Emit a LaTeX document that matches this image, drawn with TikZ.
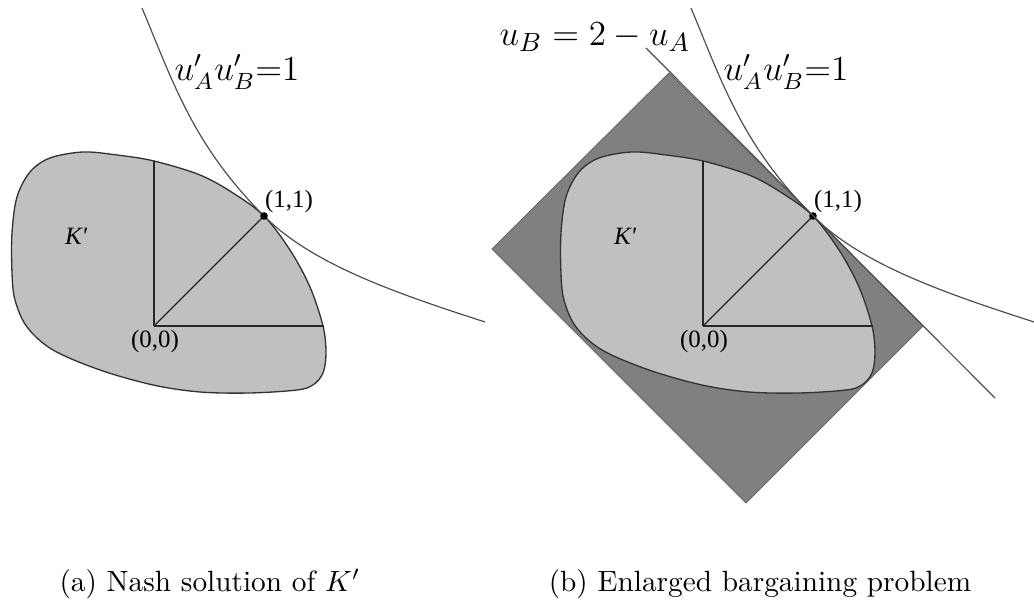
\documentclass[tikz,border=0pt]{standalone}
\usepackage{fontspec}
\newfontfamily\timesfont{Liberation Serif}
\usepackage{xcolor}
\usepackage{tikz}

\definecolor{blobgray}{RGB}{192,192,192}
\definecolor{rectgray}{RGB}{128,128,128}

\begin{document}
\begin{tikzpicture}[
    x=0.012cm, y=-0.012cm,
    every node/.style={align=center},
    region/.style={fill=blobgray, draw=black!80, line width=0.45pt},
    enlarged/.style={fill=rectgray, draw=black!60, line width=0.3pt},
    axis/.style={draw=black!85, line width=0.4pt},
    curve/.style={draw=black!70, line width=0.4pt},
    ptlab/.style={font=\timesfont\fontsize{8.5}{10}\selectfont, inner sep=1pt},
    eqlab/.style={font=\large, inner sep=1pt},
    kpanel/.pic={
      % the set K' and its Nash point
      \path[region] plot[smooth cycle, tension=0.55] coordinates {
        (110,-110) (136,-76) (156,-39) (169,0) (172,27) (169,47) (159,59)
        (143,64) (96,67) (46,66) (-1,59) (-54,44) (-101,24) (-127,1)
        (-139,-26) (-142,-53) (-142,-93) (-137,-129) (-124,-154) (-104,-168)
        (-71,-174) (-37,-171) (0,-165) (46,-151) (79,-133)};
      \coordinate (-o) at (0,0);
      \coordinate (-p) at (110,-110);
      \coordinate (-top) at (0,-165);
      \coordinate (-right) at (170,0);
      \draw[axis] (-o) -- (-top);
      \draw[axis] (-o) -- (-right);
      \draw[axis] (-o) -- (-p);
      % level curve of the product
      \coordinate (-h1) at (-12,-318);
      \coordinate (-h2) at (331,-4);
      \draw[curve] (-h1) .. controls (19,-244) and (39,-181) .. (-p)
                         .. controls (159.5,-60.5) and (245.4,-31.8) .. (-h2);
      \fill (-p) circle (1.3pt);
      \node[ptlab] (-lp) at (135,-124) {(1,1)};
      \node[ptlab] (-lo) at (1,16) {(0,0)};
      \node[ptlab] (-lk) at (-78,-90) {\itshape K'};
      \node[eqlab] (-lh) at (83,-254) {$u'_Au'_B{=}1$};
    }
]
\useasboundingbox (0,0) rectangle (1034,608);

% (a)
\pic (a) at (154,326) {kpanel};

% (b) enlarged problem under the same set
\coordinate (rt) at (669,73);
\coordinate (rr) at (923,326);
\coordinate (rb) at (746,503);
\coordinate (rl) at (492,249);
\path[enlarged] (rt) -- (rr) -- (rb) -- (rl) -- cycle;
\pic (b) at (703,326) {kpanel};
\coordinate (l1) at (646,48);
\coordinate (l2) at (995,398);
\draw[curve] (l1) -- (l2);
\node[eqlab, font=\fontsize{12.7}{15}\selectfont] (lineb) at (595,37) {$u_B = 2 - u_A$};

\node (capa) at (210,584) {(a) Nash solution of $K'$};
\node (capb) at (760,584) {(b) Enlarged bargaining problem};
\end{tikzpicture}
\end{document}
